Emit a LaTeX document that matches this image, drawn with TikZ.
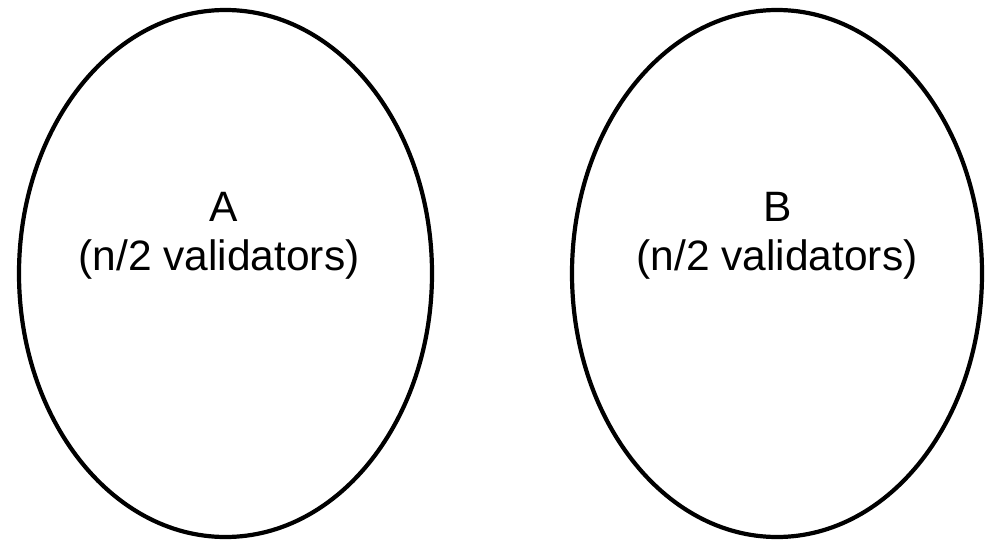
\documentclass[tikz,border=0pt]{standalone}
\usepackage{fontspec}
\setmainfont{Liberation Sans}
\usetikzlibrary{shapes.geometric}
\begin{document}
\begin{tikzpicture}[x=1pt,y=-1pt,
  group/.style={draw=black,line width=4.2pt,ellipse,inner sep=0pt,outer sep=0pt,minimum height=527pt},
  lbl/.style={anchor=base,inner sep=0pt,font=\fontsize{42.5}{48}\selectfont}]
\useasboundingbox (0,0) rectangle (985,543);
\node[group,minimum width=413pt] (ga) at (225.5,273.5) {};
\node[group,minimum width=410pt] (gb) at (777,273.5) {};
\node[lbl] (ta) at (224,221.7) {A};
\node[lbl] (sa) at (219,270) {(n/2 validators)};
\node[lbl] (tb) at (778,221.7) {B};
\node[lbl] (sb) at (777,270) {(n/2 validators)};
\end{tikzpicture}
\end{document}
